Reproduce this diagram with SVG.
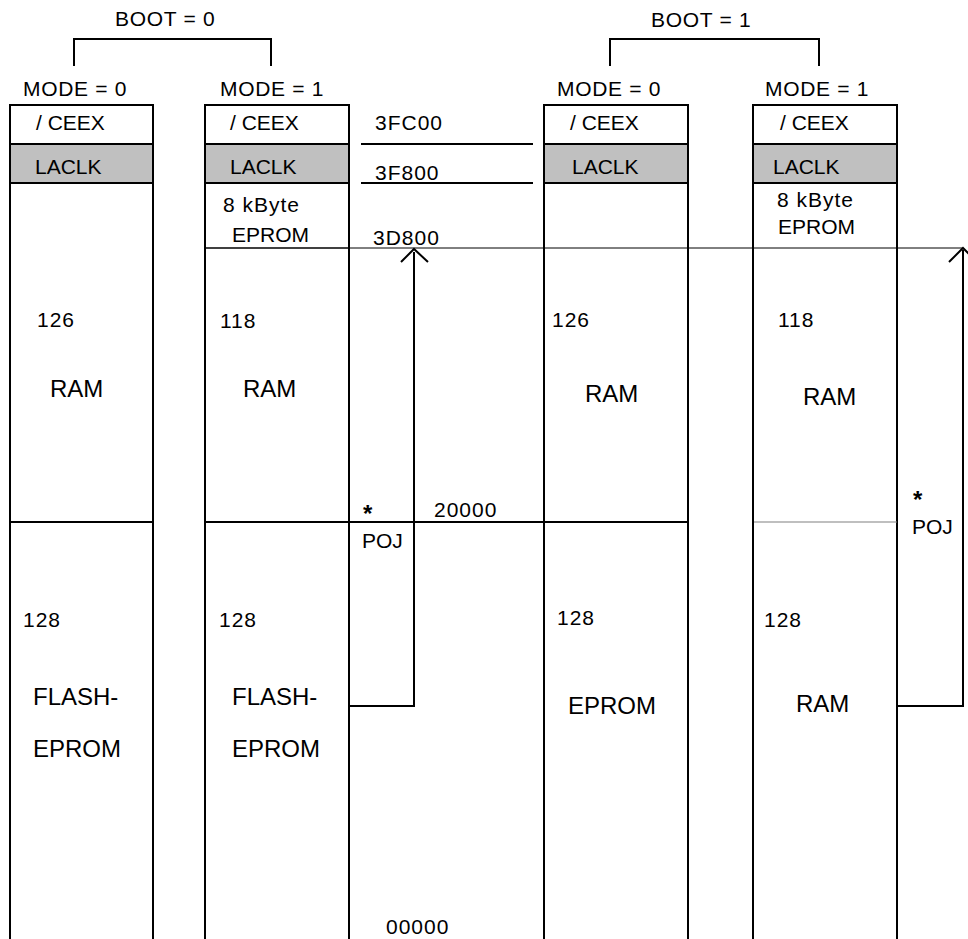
<svg xmlns="http://www.w3.org/2000/svg" width="968" height="939" viewBox="0 0 968 939">
<style>
text{font-family:"Liberation Sans",Arial,sans-serif;fill:#000}
.t{font-size:21px}
.h{font-size:21px;letter-spacing:0.7px}
.n{font-size:21px;letter-spacing:1px}
.b{font-size:24px}
.ast{font-size:24px;font-weight:bold}
.k{stroke:#000;stroke-width:2;fill:none}
.th{stroke:#000;stroke-width:1;fill:none}
.g{fill:#c0c0c0;stroke:none}
</style>
<rect width="968" height="939" fill="#fff"/>

<g id="boot0">
<polyline class="k" points="74,66 74,39 271,39 271,66"/>
<text class="h" x="115" y="26">BOOT = 0</text>
</g>
<g id="boot1">
<polyline class="k" points="610,66 610,39 819,39 819,66"/>
<text class="h" x="651" y="27">BOOT = 1</text>
</g>

<g id="col1">
<text class="h" x="23" y="96">MODE = 0</text>
<rect class="g" x="10" y="144" width="143" height="39"/>
<polyline class="k" points="10,939 10,105 153,105 153,939"/>
<line class="k" x1="10" y1="144" x2="153" y2="144"/>
<line class="k" x1="10" y1="183" x2="153" y2="183"/>
<line class="k" x1="10" y1="522" x2="153" y2="522"/>
<text class="t" x="36" y="130">/ CEEX</text>
<text class="t" x="35" y="174">LACLK</text>
<text class="n" x="37" y="327">126</text>
<text class="b" x="50" y="397">RAM</text>
<text class="n" x="23" y="627">128</text>
<text class="b" x="33" y="705">FLASH-</text>
<text class="b" x="33" y="757">EPROM</text>
</g>

<g id="col2">
<text class="h" x="220" y="96">MODE = 1</text>
<rect class="g" x="205" y="144" width="144" height="39"/>
<polyline class="k" points="205,939 205,105 349,105 349,939"/>
<line class="k" x1="205" y1="144" x2="349" y2="144"/>
<line class="k" x1="205" y1="183" x2="349" y2="183"/>
<line class="k" x1="205" y1="248" x2="349" y2="248" style="stroke-width:1.5"/>
<line class="k" x1="205" y1="522" x2="349" y2="522"/>
<text class="t" x="230" y="130">/ CEEX</text>
<text class="t" x="230" y="174">LACLK</text>
<text class="n" x="223" y="212">8 kByte</text>
<text class="t" x="232" y="242">EPROM</text>
<text class="n" x="220" y="328">118</text>
<text class="b" x="243" y="397">RAM</text>
<text class="n" x="219" y="627">128</text>
<text class="b" x="232" y="705">FLASH-</text>
<text class="b" x="232" y="757">EPROM</text>
</g>

<g id="addresses">
<text class="n" x="375" y="130">3FC00</text>
<line class="k" x1="361" y1="144" x2="533" y2="144"/>
<text class="n" x="375" y="180">3F800</text>
<line class="k" x1="361" y1="183" x2="533" y2="183"/>
<text class="n" x="373" y="245">3D800</text>
<text class="n" x="434" y="517">20000</text>
<text class="n" x="386" y="934">00000</text>
</g>

<g id="col3">
<text class="h" x="557" y="96">MODE = 0</text>
<rect class="g" x="544" y="144" width="144" height="39"/>
<polyline class="k" points="544,939 544,105 688,105 688,939"/>
<line class="k" x1="544" y1="144" x2="688" y2="144"/>
<line class="k" x1="544" y1="183" x2="688" y2="183"/>
<line class="k" x1="544" y1="522" x2="688" y2="522"/>
<text class="t" x="570" y="130">/ CEEX</text>
<text class="t" x="572" y="174">LACLK</text>
<text class="n" x="552" y="327">126</text>
<text class="b" x="585" y="402">RAM</text>
<text class="n" x="557" y="625">128</text>
<text class="b" x="568" y="714">EPROM</text>
</g>

<g id="col4">
<text class="h" x="765" y="96">MODE = 1</text>
<rect class="g" x="753" y="144" width="144" height="39"/>
<polyline class="k" points="753,939 753,105 897,105 897,939"/>
<line class="k" x1="753" y1="144" x2="897" y2="144"/>
<line class="k" x1="753" y1="183" x2="897" y2="183"/>
<line x1="754" y1="522" x2="897" y2="522" stroke="#808080" stroke-width="1.2"/>
<text class="t" x="780" y="130">/ CEEX</text>
<text class="t" x="773" y="174">LACLK</text>
<text class="n" x="777" y="207">8 kByte</text>
<text class="t" x="778" y="234">EPROM</text>
<text class="n" x="778" y="327">118</text>
<text class="b" x="803" y="405">RAM</text>
<text class="n" x="764" y="627">128</text>
<text class="b" x="796" y="712">RAM</text>
</g>

<g id="poj1">
<text class="ast" x="363" y="522">*</text>
<text class="t" x="362" y="548">POJ</text>
</g>
<g id="poj2">
<text class="ast" x="913" y="508">*</text>
<text class="t" x="912" y="534">POJ</text>
</g>

<g id="connectors">
<line class="th" x1="349" y1="248" x2="963" y2="248"/>
<line class="k" x1="349" y1="522" x2="544" y2="522"/>
<polyline class="k" points="349,706 414,706 414,252"/>
<polyline class="k" points="401,262 414,249 428,262"/>
<polyline class="k" points="897,706 963,706 963,250"/>
<polyline class="k" points="949,262 963,248 977,262"/>
</g>
</svg>
